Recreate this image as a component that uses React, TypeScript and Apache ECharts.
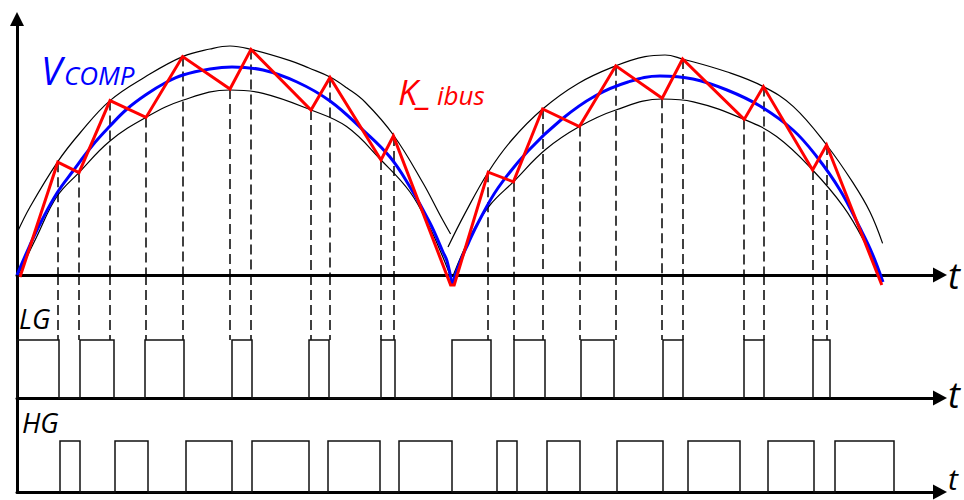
import React, { useEffect, useRef } from "react";
import * as echarts from "echarts";

// time in ms, amplitude normalised (Vcomp peak ~ 1)
const vcompHump1: [number, number][] = [
  [0, 0], [0.325, 0.15], [0.625, 0.275], [1.0, 0.41], [1.4, 0.52], [1.875, 0.645],
  [2.325, 0.745], [2.75, 0.83], [3.25, 0.905], [3.7, 0.96], [4.15, 1.0], [4.825, 1.03],
  [5.375, 1.04], [6.15, 1.025], [7.0, 0.965], [7.825, 0.87], [8.65, 0.725], [9.325, 0.59],
  [9.825, 0.44], [10.325, 0.26], [10.65, 0.115], [10.75, 0.07], [10.875, -0.045],
];
const vcompHump2: [number, number][] = [
  [10.875, -0.05], [11.075, 0.065], [11.275, 0.155], [11.525, 0.26], [12.025, 0.435],
  [12.775, 0.62], [13.625, 0.78], [14.45, 0.895], [15.275, 0.965], [16.075, 0.995],
  [16.9, 0.98], [17.75, 0.925], [18.575, 0.845], [19.4, 0.725], [20.0, 0.59],
  [20.575, 0.425], [21.075, 0.235], [21.375, 0.11], [21.65, -0.035],
];
const upperHump1: [number, number][] = [
  [0, 0.21], [0.325, 0.34], [1.02, 0.567], [1.575, 0.71], [2.325, 0.872], [3.2, 0.99],
  [4.14, 1.092], [4.825, 1.13], [5.325, 1.145], [5.85, 1.128], [6.825, 1.072], [7.3, 1.035],
  [7.825, 0.99], [8.25, 0.935], [8.7, 0.865], [9.41, 0.7], [10.15, 0.46], [10.575, 0.3],
  [10.84, 0.205],
];
const upperHump2: [number, number][] = [
  [10.775, 0.14], [11.2, 0.308], [11.78, 0.514], [12.37, 0.675], [13.14, 0.83],
  [14.03, 0.958], [14.97, 1.046], [15.7, 1.092], [16.2, 1.1], [16.64, 1.08], [17.74, 1.016],
  [18.66, 0.942], [19.41, 0.842], [20.24, 0.65], [20.91, 0.458], [21.325, 0.315], [21.64, 0.158],
];
const lowerHump1: [number, number][] = [
  [0.03, 0], [0.49, 0.19], [0.99, 0.39], [1.55, 0.512], [2.325, 0.67], [3.225, 0.788],
  [4.16, 0.875], [5.325, 0.925], [6.15, 0.908], [7.35, 0.825], [8.24, 0.742], [9.1, 0.575],
  [9.825, 0.415], [10.325, 0.235], [10.625, 0.1], [10.825, 0],
];
const lowerHump2: [number, number][] = [
  [10.91, 0], [11.37, 0.208], [11.825, 0.35], [12.41, 0.466], [13.2, 0.625], [14.06, 0.742],
  [14.97, 0.825], [16.13, 0.88], [16.91, 0.866], [18.18, 0.778], [18.99, 0.692], [19.89, 0.525],
  [20.66, 0.342], [21.16, 0.175], [21.62, -0.025],
];
// K_ibus vertices
const ibusHump1: [number, number][] = [
  [0.075, -0.01], [1.02, 0.564], [1.55, 0.512], [2.325, 0.872], [3.225, 0.788], [4.14, 1.092],
  [5.325, 0.93], [5.85, 1.128], [7.35, 0.825], [7.825, 0.988], [9.1, 0.575], [9.41, 0.695],
  [10.84, -0.05],
];
const ibusHump2: [number, number][] = [
  [10.93, -0.05], [11.78, 0.514], [12.41, 0.466], [13.14, 0.83], [14.06, 0.742], [14.97, 1.046],
  [16.13, 0.884], [16.64, 1.08], [18.18, 0.778], [18.66, 0.942], [19.89, 0.525], [20.24, 0.65],
  [21.62, -0.05],
];
// gate pulses [on, off] in ms
const lgPulses: [number, number][] = [
  [0, 1.05], [1.575, 2.425], [3.2, 4.175], [5.375, 5.875], [7.3, 7.8], [9.1, 9.45],
  [10.875, 11.85], [12.425, 13.2], [14.1, 14.925], [16.15, 16.65], [18.175, 18.675], [19.9, 20.325],
];
const hgPulses: [number, number][] = [
  [1.075, 1.575], [2.45, 3.275], [4.225, 5.375], [5.875, 7.3], [7.775, 9.075], [9.55, 10.875],
  [12.0, 12.5], [13.25, 14.075], [15.0, 16.15], [16.775, 18.075], [18.775, 19.925], [20.45, 21.925],
];

const T_MAX = 23.075;
const V_MAX = 1.28;
const LG_MAX = 2.12;
const HG_MAX = 1.843;
const FONT = '"Open Sans", "DejaVu Sans", sans-serif';

function pulseTrain(p: [number, number][]): [number, number][] {
  const out: [number, number][] = [];
  p.forEach(([a, b]) => {
    out.push([a, 0], [a, 1], [b, 1], [b, 0]);
  });
  return out;
}

export default function App() {
  const ref = useRef<HTMLDivElement>(null);
  useEffect(() => {
    const chart = echarts.init(ref.current!, null, { renderer: "svg" });
    const vertices = [...ibusHump1.slice(1, -1), ...ibusHump2.slice(1, -1)];
    const xAxisBase = (gi: number) => ({
      type: "value",
      gridIndex: gi,
      min: 0,
      max: T_MAX,
      axisLine: {
        show: true,
        symbol: ["none", "triangle"],
        symbolSize: [15, 14],
        lineStyle: { color: "#000", width: 3 },
      },
      axisTick: { show: false },
      axisLabel: { show: false },
      splitLine: { show: false },
    });
    const yAxisBase = (gi: number, max: number, arrow: boolean) => ({
      type: "value",
      gridIndex: gi,
      min: 0,
      max,
      axisLine: {
        show: true,
        symbol: arrow ? ["none", "triangle"] : ["none", "none"],
        symbolSize: [14, 14],
        lineStyle: { color: "#000", width: 3 },
      },
      axisTick: { show: false },
      axisLabel: { show: false },
      splitLine: { show: false },
    });
    const thin = (data: [number, number][]) => ({
      type: "line",
      xAxisIndex: 0,
      yAxisIndex: 0,
      data,
      smooth: 0.4,
      showSymbol: false,
      symbol: "none",
      clip: false,
      lineStyle: { color: "#000", width: 1.2 },
      z: 3,
    });
    const thick = (data: [number, number][], color: string, smooth: number | boolean, z: number) => ({
      type: "line",
      xAxisIndex: 0,
      yAxisIndex: 0,
      data,
      smooth,
      showSymbol: false,
      symbol: "none",
      clip: false,
      lineStyle: { color, width: 3, join: "miter" },
      z,
    });
    const option: any = {
      animation: false,
      grid: [
        { left: 17, right: 24, top: 19, height: 256 },
        { left: 17, right: 24, top: 275, height: 123 },
        { left: 17, right: 24, top: 398, height: 94 },
      ],
      xAxis: [xAxisBase(0), xAxisBase(1), xAxisBase(2)],
      yAxis: [yAxisBase(0, V_MAX, true), yAxisBase(1, LG_MAX, false), yAxisBase(2, HG_MAX, false)],
      series: [
        thin(upperHump1),
        thin(upperHump2),
        thin(lowerHump1),
        thin(lowerHump2),
        {
          type: "lines",
          coordinateSystem: "cartesian2d",
          xAxisIndex: 0,
          yAxisIndex: 0,
          polyline: false,
          symbol: "none",
          data: vertices.map(([t, v]) => ({ coords: [[t, v], [t, 0]] })),
          lineStyle: { color: "#000", width: 1.5, type: [10, 5], opacity: 1 },
          z: 2,
        },
        {
          type: "lines",
          coordinateSystem: "cartesian2d",
          xAxisIndex: 1,
          yAxisIndex: 1,
          polyline: false,
          symbol: "none",
          data: vertices.map(([t]) => ({ coords: [[t, LG_MAX], [t, 1]] })),
          lineStyle: { color: "#000", width: 1.5, type: [10, 5], opacity: 1 },
          z: 2,
        },
        thick(vcompHump1, "#0000ff", 0.4, 4),
        thick(vcompHump2, "#0000ff", 0.4, 4),
        thick([...ibusHump1, ...ibusHump2], "#ff0000", false, 5),
        {
          type: "line",
          xAxisIndex: 1,
          yAxisIndex: 1,
          data: pulseTrain(lgPulses),
          showSymbol: false,
          symbol: "none",
          clip: false,
          lineStyle: { color: "#111", width: 1.5, join: "miter" },
          z: 3,
        },
        {
          type: "line",
          xAxisIndex: 2,
          yAxisIndex: 2,
          data: pulseTrain(hgPulses),
          showSymbol: false,
          symbol: "none",
          clip: false,
          lineStyle: { color: "#111", width: 1.5, join: "miter" },
          z: 3,
        },
      ],
      graphic: [
        { type: "text", x: 41, y: 70, style: { text: "V", fill: "#0000ff", font: `italic 38px ${FONT}`, align: "left", verticalAlign: "middle" } },
        { type: "text", x: 64, y: 75, style: { text: "COMP", fill: "#0000ff", font: `italic 26px ${FONT}`, align: "left", verticalAlign: "middle" } },
        { type: "text", x: 398, y: 91, style: { text: "K_", fill: "#ff0000", font: `italic 35px ${FONT}`, align: "left", verticalAlign: "middle" } },
        { type: "text", x: 437, y: 95, style: { text: "ibus", fill: "#ff0000", font: `italic 26px ${FONT}`, align: "left", verticalAlign: "middle" } },
        { type: "text", x: 19, y: 318, style: { text: "LG", fill: "#000", font: `italic 27px ${FONT}`, align: "left", verticalAlign: "middle" } },
        { type: "text", x: 22, y: 422, style: { text: "HG", fill: "#000", font: `italic 27px ${FONT}`, align: "left", verticalAlign: "middle" } },
        { type: "text", x: 948, y: 275, style: { text: "t", fill: "#000", font: `italic 36px ${FONT}`, align: "left", verticalAlign: "middle" } },
        { type: "text", x: 948, y: 394, style: { text: "t", fill: "#000", font: `italic 36px ${FONT}`, align: "left", verticalAlign: "middle" } },
        { type: "text", x: 948, y: 478, style: { text: "t", fill: "#000", font: `italic 30px ${FONT}`, align: "left", verticalAlign: "middle" } },
      ],
    };
    chart.setOption(option);
    return () => chart.dispose();
  }, []);
  return (
    <div
      ref={ref}
      style={{ position: "fixed", left: 0, top: 0, width: 964, height: 500, background: "#fff" }}
    />
  );
}
